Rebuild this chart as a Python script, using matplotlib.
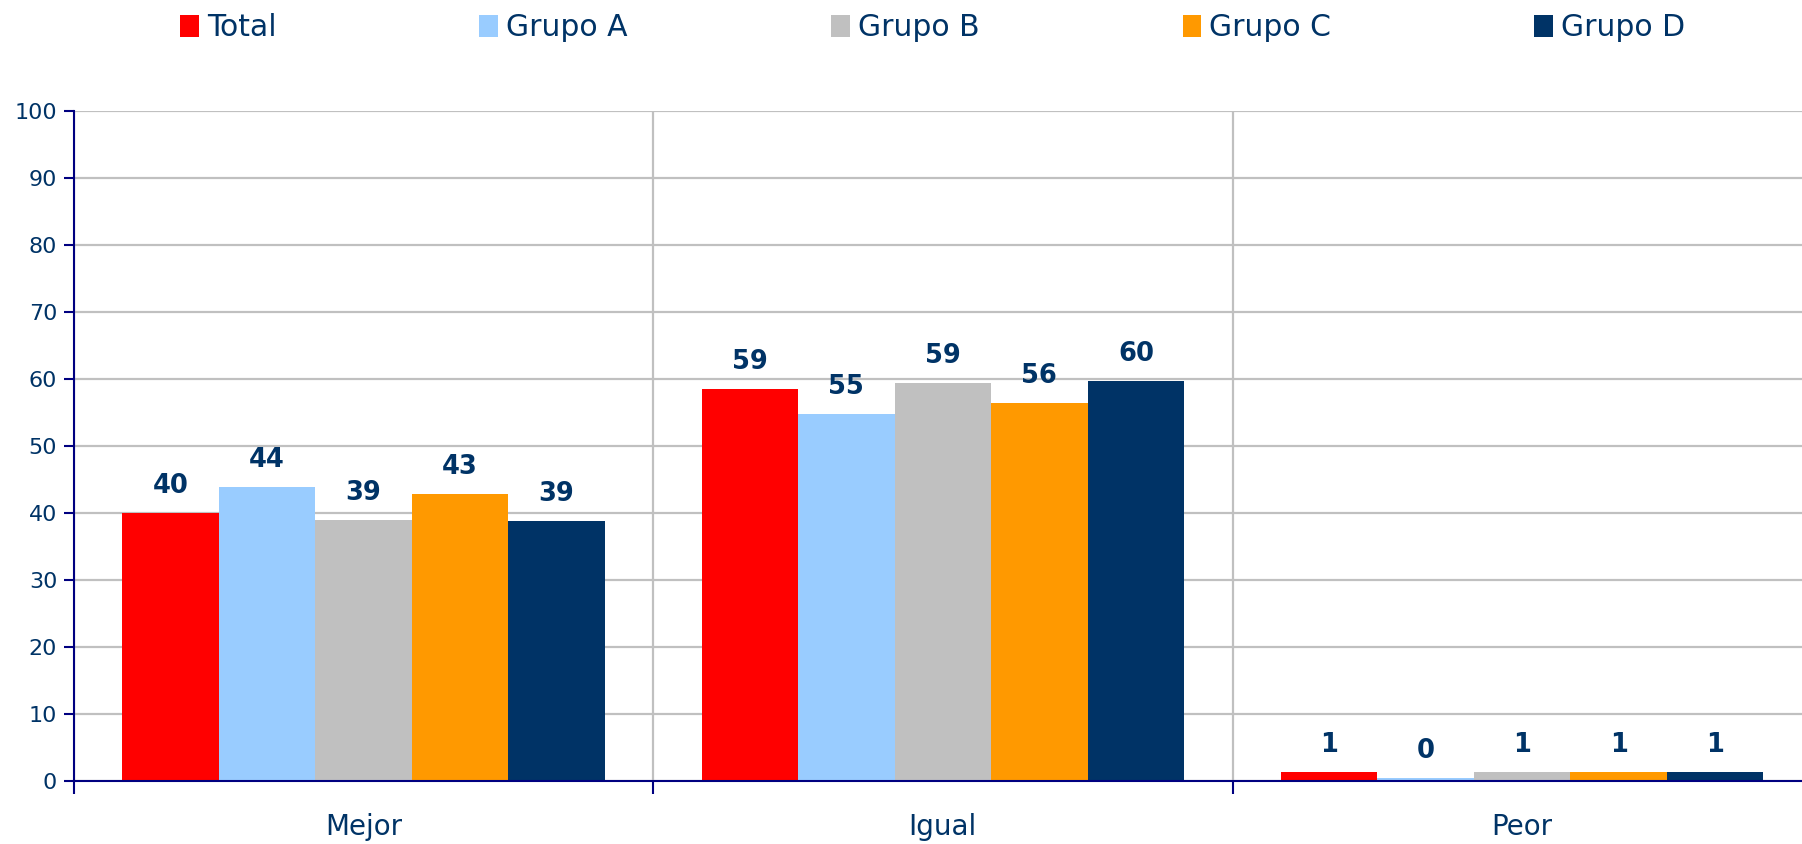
import numpy as np
import matplotlib
matplotlib.use("Agg")
import matplotlib.pyplot as plt
from matplotlib.ticker import FixedLocator, NullFormatter

plt.rcParams['font.family'] = ['DejaVu Sans']

categories = ["Mejor", "Igual", "Peor"]
series = ["Total", "Grupo A", "Grupo B", "Grupo C", "Grupo D"]
total = [40.0, 58.6, 1.3]
grupo_a = [43.9, 54.8, 0.45]
grupo_b = [39.0, 59.4, 1.3]
grupo_c = [42.9, 56.5, 1.3]
grupo_d = [38.8, 59.8, 1.3]
yticks = [0, 10, 20, 30, 40, 50, 60, 70, 80, 90, 100]

colors = ["#FF0000", "#99CCFF", "#C0C0C0", "#FF9900", "#003366"]
text_color = "#003366"
axis_color = "#000080"
grid_color = "#C0C0C0"

fig = plt.figure(figsize=(18.02, 8.44), dpi=100)
ax = fig.add_axes([0.041, 0.0746, 0.959, 0.7934])

x = np.arange(len(categories))
width = 0.1666
values = [total, grupo_a, grupo_b, grupo_c, grupo_d]
for i, (name, vals, col) in enumerate(zip(series, values, colors)):
    pos = x + (i - 2) * width
    bars = ax.bar(pos, vals, width, color=col, label=name, zorder=3)
    for b, v in zip(bars, vals):
        ax.annotate("%.0f" % v, (b.get_x() + b.get_width() / 2, v),
                    xytext=(0, 10), textcoords="offset points",
                    ha="center", va="bottom", fontsize=18.5, fontweight="bold",
                    color=text_color)

ax.set_ylim(0, 100)
ax.set_xlim(-0.5, 2.483)
ax.set_yticks(yticks)
ax.yaxis.grid(True, color=grid_color, linewidth=1.6, zorder=0)

# category boundaries carry the ticks and vertical grid, names sit in between
ax.xaxis.set_major_locator(FixedLocator([-0.5, 0.5, 1.5, 2.5]))
ax.xaxis.set_major_formatter(NullFormatter())
ax.xaxis.set_minor_locator(FixedLocator(x))
ax.set_xticklabels(categories, minor=True)
ax.xaxis.grid(True, which="major", color=grid_color, linewidth=1.6, zorder=0)
ax.tick_params(axis="x", which="major", length=9, width=1.5, color=axis_color)
ax.tick_params(axis="x", which="minor", length=0, pad=23, labelsize=20,
               labelcolor=text_color)
ax.tick_params(axis="y", length=7, width=1.5, color=axis_color, labelsize=16,
               labelcolor=text_color, pad=5)

for s in ["top", "right"]:
    ax.spines[s].set_visible(False)
for s in ["left", "bottom"]:
    ax.spines[s].set_color(axis_color)
    ax.spines[s].set_linewidth(1.5)
    ax.spines[s].set_zorder(4)

leg = fig.legend(loc="center left", bbox_to_anchor=(0.085, 0.967), ncol=5,
                 frameon=False, fontsize=21.5, handlelength=0.62,
                 handleheight=0.75, handletextpad=0.28, columnspacing=6.8)
for t in leg.get_texts():
    t.set_color(text_color)

fig.savefig("out.png", dpi=100)
